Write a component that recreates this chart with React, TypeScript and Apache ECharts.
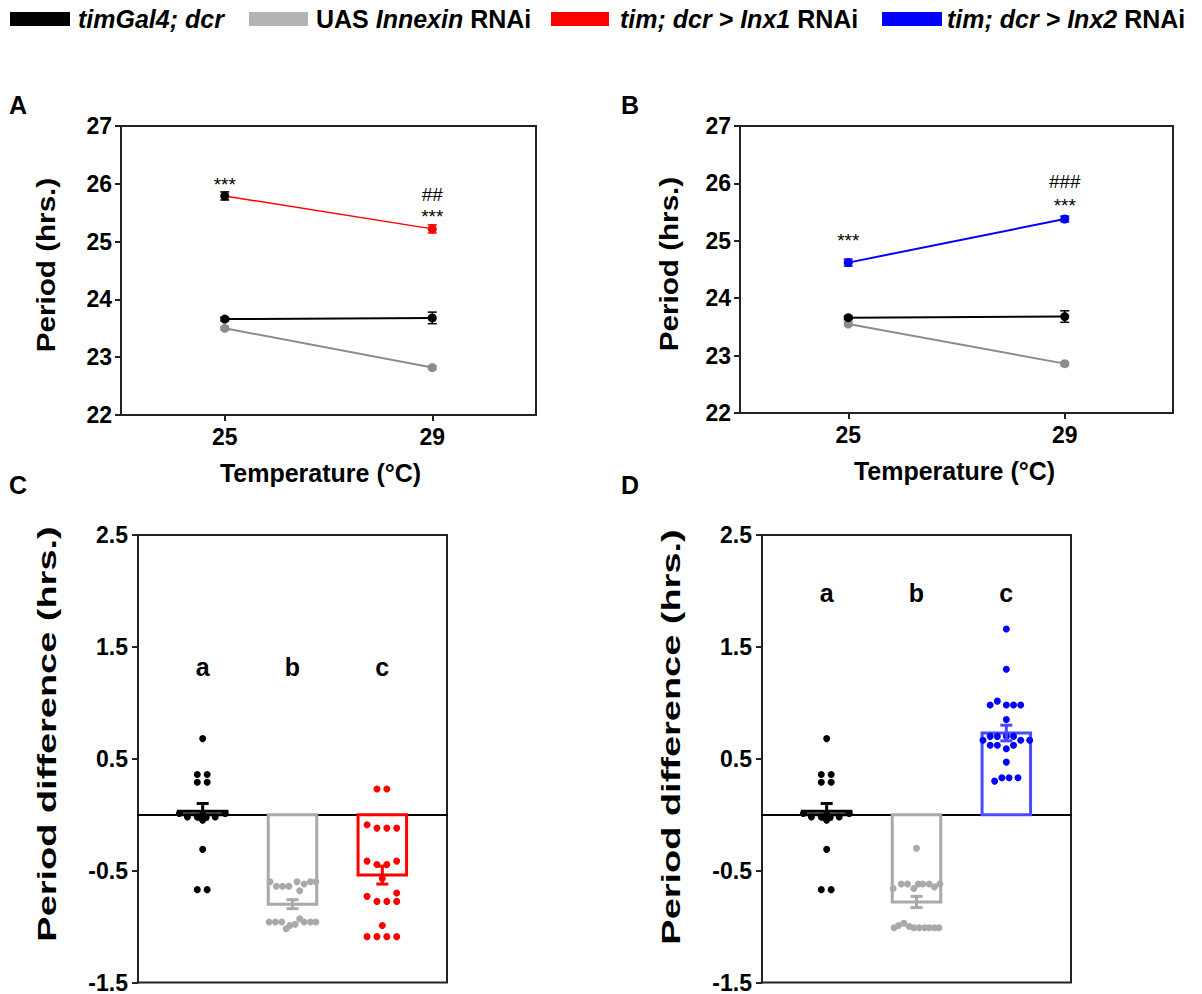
import React, { useEffect, useRef } from "react";
import * as echarts from "echarts";

const FONT = "'Liberation Sans', Arial, Helvetica, sans-serif";

// ---------- Panels A & B (period vs temperature) ----------
const temps = [25, 29];
const xTickValues = [25, 29];

const gal4Period = [23.66, 23.68];
const gal4Sem = [0.03, 0.1];

const uasPeriodA = [23.5, 22.82];
const uasSemA = [0.03, 0.03];
const inx1Period = [25.79, 25.22];
const inx1Sem = [0.07, 0.07];

const uasPeriodB = [23.55, 22.86];
const uasSemB = [0.03, 0.03];
const inx2Period = [24.62, 25.38];
const inx2Sem = [0.06, 0.05];

// [temperature, period, text]
const annotA: [number, number, string][] = [
  [25, 25.98, "***"],
  [29, 25.82, "##"],
  [29, 25.44, "***"],
];
const annotB: [number, number, string][] = [
  [25, 25.0, "***"],
  [29, 26.03, "###"],
  [29, 25.62, "***"],
];

// ---------- Panels C & D (period difference) ----------
const diffTickValues = [-1.5, -0.5, 0.5, 1.5, 2.5];
const letters = ["a", "b", "c"];
const lettersYC = 1.32;
const lettersYD = 1.98;

const barMeanC = [0.03, -0.8, -0.54];
const barSemC = [0.07, 0.04, 0.08];
const barMeanD = [0.03, -0.78, 0.73];
const barSemD = [0.07, 0.05, 0.07];

// [offset within column, value]
const gal4Dots: [number, number][] = [
  [0, 0.68],
  [-0.06, 0.36], [0.05, 0.36],
  [-0.06, 0.29], [0.05, 0.29],
  [-0.26, 0.01], [-0.17, -0.02], [-0.06, -0.02], [0, -0.05], [0.04, -0.02], [0.14, -0.02], [0.25, 0.01], [0, 0.0],
  [0, -0.31],
  [-0.06, -0.67], [0.05, -0.67],
];

const uasDotsC: [number, number][] = [
  [-0.25, -0.6], [-0.18, -0.64], [-0.11, -0.64], [-0.04, -0.64], [0.05, -0.6], [0.08, -0.68], [0.13, -0.62], [0.2, -0.6], [0.26, -0.6],
  [-0.26, -0.96], [-0.19, -0.96], [-0.12, -0.96], [-0.07, -1.02], [-0.03, -0.99], [0.03, -0.98], [0.08, -0.93], [0.13, -0.96], [0.2, -0.96], [0.26, -0.96],
];

const inx1Dots: [number, number][] = [
  [-0.06, 0.23], [0.05, 0.23],
  [-0.17, -0.09], [-0.06, -0.12], [0.05, -0.12], [0.16, -0.12],
  [-0.17, -0.415], [-0.06, -0.445], [0.05, -0.445], [0.16, -0.415],
  [0, -0.57],
  [-0.17, -0.73], [-0.06, -0.775], [0.05, -0.775], [0.16, -0.7], [0.16, -0.775],
  [0, -0.99],
  [-0.17, -1.09], [-0.06, -1.09], [0.05, -1.09], [0.16, -1.09],
];

const uasDotsD: [number, number][] = [
  [0, -0.3],
  [-0.26, -0.66], [-0.17, -0.62], [-0.1, -0.62], [-0.03, -0.66], [0.02, -0.62], [0.07, -0.62], [0.14, -0.62], [0.2, -0.645], [0.26, -0.62],
  [-0.25, -1.01], [-0.2, -0.99], [-0.14, -0.97], [-0.08, -1.0], [-0.03, -1.01], [0.03, -1.01], [0.09, -1.01], [0.14, -1.01], [0.2, -1.01], [0.25, -1.01],
];

const inx2Dots: [number, number][] = [
  [0, 1.66], [0, 1.3],
  [-0.18, 0.98], [-0.1, 1.015], [0, 0.98], [0.08, 0.98], [0.16, 0.98],
  [0, 0.85],
  [-0.26, 0.665], [-0.18, 0.7], [-0.1, 0.7], [0, 0.7], [0.08, 0.7], [0.16, 0.665], [0.26, 0.665],
  [-0.18, 0.62], [-0.1, 0.62], [0, 0.59], [0.08, 0.62],
  [0, 0.47],
  [-0.13, 0.3], [-0.05, 0.33], [0.03, 0.33], [0.13, 0.33],
];

const BLACK = "#000000";
const GREY_LINE = "#8c8c8c";
const GREY_DOT = "#a9a9a9";
const GREY_LEGEND = "#b3b3b3";
const RED = "#ff0000";
const BLUE = "#0000ff";
const BLUE_BAR = "#4a4aff";
const FRAME = "#222222";

const BAR_HALF = 0.27;

function errorBarRender(capHalfPx: number, width: number) {
  return (params: any, api: any) => {
    const x = api.value(0);
    const m = api.value(1);
    const s = api.value(2);
    const top = api.coord([x, m + s]);
    const bot = api.coord([x, m - s]);
    const color = api.visual("color");
    const st = { stroke: color, lineWidth: width };
    return {
      type: "group",
      children: [
        { type: "line", shape: { x1: top[0], y1: top[1], x2: bot[0], y2: bot[1] }, style: st },
        { type: "line", shape: { x1: top[0] - capHalfPx, y1: top[1], x2: top[0] + capHalfPx, y2: top[1] }, style: st },
        { type: "line", shape: { x1: bot[0] - capHalfPx, y1: bot[1], x2: bot[0] + capHalfPx, y2: bot[1] }, style: st },
      ],
    };
  };
}

function barRender(params: any, api: any) {
  const c = api.value(0);
  const m = api.value(1);
  const p0 = api.coord([c - BAR_HALF, 0]);
  const p1 = api.coord([c + BAR_HALF, m]);
  return {
    type: "rect",
    shape: {
      x: Math.min(p0[0], p1[0]),
      y: Math.min(p0[1], p1[1]),
      width: Math.abs(p1[0] - p0[0]),
      height: Math.abs(p1[1] - p0[1]),
    },
    style: { fill: "none", stroke: api.visual("color"), lineWidth: 3 },
  };
}

function textRender(texts: string[], fontSize: number, fontWeight: string) {
  return (params: any, api: any) => {
    const p = api.coord([api.value(0), api.value(1)]);
    return {
      type: "text",
      x: p[0],
      y: p[1],
      style: {
        text: texts[params.dataIndex],
        fontSize,
        fontWeight,
        fontFamily: FONT,
        fill: "#000",
        align: "center",
        verticalAlign: "middle",
      },
    };
  };
}

const axisLabelStyle = { fontSize: 23, fontWeight: "bold", color: "#000", fontFamily: FONT };
const axisNameStyle = { fontSize: 25, fontWeight: "bold", color: "#000", fontFamily: FONT };

export default function App() {
  const ref = useRef<HTMLDivElement>(null);

  useEffect(() => {
    if (!ref.current) return;
    const chart = echarts.init(ref.current, undefined, { renderer: "svg" });

    const grids = [
      { left: 121, top: 126, width: 415, height: 289 },
      { left: 740, top: 126, width: 433, height: 287 },
      { left: 138, top: 535, width: 309, height: 449 },
      { left: 762, top: 535, width: 309, height: 449 },
    ].map((g) => ({ ...g, show: true, borderColor: FRAME, borderWidth: 2, backgroundColor: "#fff" }));

    const tempX = (gi: number, shiftLeft: number) => ({
      gridIndex: gi,
      type: "value",
      min: 23,
      max: 31,
      axisLine: { onZero: false, lineStyle: { color: FRAME, width: 2 } },
      axisTick: { show: true, customValues: xTickValues, length: 6, lineStyle: { color: FRAME, width: 2 } },
      axisLabel: { ...axisLabelStyle, customValues: xTickValues, margin: 10 },
      splitLine: { show: false },
      name: "Temperature (°C)",
      nameLocation: "middle",
      nameGap: 45,
      nameTextStyle: { ...axisNameStyle, padding: [0, shiftLeft * 2, 0, 0] },
    });
    const periodY = (gi: number) => ({
      gridIndex: gi,
      type: "value",
      min: 22,
      max: 27,
      interval: 1,
      axisLine: { show: true, onZero: false, lineStyle: { color: FRAME, width: 2 } },
      axisTick: { show: true, length: 6, lineStyle: { color: FRAME, width: 2 } },
      axisLabel: { ...axisLabelStyle, margin: 9 },
      splitLine: { show: false },
    });
    const catX = (gi: number) => ({
      gridIndex: gi,
      type: "value",
      min: -0.72,
      max: 2.72,
      axisLine: { show: true, onZero: true, lineStyle: { color: BLACK, width: 2 } },
      axisTick: { show: false },
      axisLabel: { show: false },
      splitLine: { show: false },
    });
    const diffY = (gi: number) => ({
      gridIndex: gi,
      type: "value",
      min: -1.5,
      max: 2.5,
      axisLine: { show: true, onZero: false, lineStyle: { color: FRAME, width: 2 } },
      axisTick: { show: true, customValues: diffTickValues, length: 6, lineStyle: { color: FRAME, width: 2 } },
      axisLabel: { ...axisLabelStyle, customValues: diffTickValues, margin: 10, formatter: (v: number) => v.toFixed(1) },
      splitLine: { show: false },
    });

    const series: any[] = [];

    const addLine = (gi: number, vals: number[], sems: number[], color: string, width: number, markerColors?: string[]) => {
      series.push({
        type: "custom",
        xAxisIndex: gi,
        yAxisIndex: gi,
        renderItem: errorBarRender(4.5, 1.5),
        data: temps.map((t, i) => ({
          value: [t, vals[i], sems[i]],
          itemStyle: { color: markerColors ? markerColors[i] : color },
        })),
        z: 3,
      });
      series.push({
        type: "line",
        xAxisIndex: gi,
        yAxisIndex: gi,
        symbol: "circle",
        symbolSize: 9,
        lineStyle: { color, width },
        itemStyle: { color },
        data: temps.map((t, i) => ({
          value: [t, vals[i]],
          itemStyle: { color: markerColors ? markerColors[i] : color },
        })),
        z: 4,
      });
    };
    addLine(0, uasPeriodA, uasSemA, GREY_LINE, 2);
    addLine(0, gal4Period, gal4Sem, BLACK, 2);
    addLine(0, inx1Period, inx1Sem, RED, 1.5, [BLACK, RED]);
    addLine(1, uasPeriodB, uasSemB, GREY_LINE, 2);
    addLine(1, gal4Period, gal4Sem, BLACK, 2);
    addLine(1, inx2Period, inx2Sem, BLUE, 2);

    const addAnnot = (gi: number, list: [number, number, string][]) => {
      series.push({
        type: "custom",
        xAxisIndex: gi,
        yAxisIndex: gi,
        renderItem: textRender(list.map((a) => a[2]), 19, "normal"),
        data: list.map((a) => [a[0], a[1]]),
        z: 5,
      });
    };
    addAnnot(0, annotA);
    addAnnot(1, annotB);

    const addDiffPanel = (
      gi: number,
      means: number[],
      sems: number[],
      barColors: string[],
      dotColors: string[],
      dots: [number, number][][],
      lettersY: number
    ) => {
      series.push({
        type: "custom",
        xAxisIndex: gi,
        yAxisIndex: gi,
        renderItem: barRender,
        data: means.map((m, i) => ({ value: [i, m], itemStyle: { color: barColors[i] } })),
        z: 2,
      });
      dots.forEach((group, i) => {
        series.push({
          type: "scatter",
          xAxisIndex: gi,
          yAxisIndex: gi,
          symbol: "circle",
          symbolSize: 7,
          itemStyle: { color: dotColors[i], opacity: 1 },
          data: group.map((d) => [i + d[0], d[1]]),
          z: 3,
        });
      });
      series.push({
        type: "custom",
        xAxisIndex: gi,
        yAxisIndex: gi,
        renderItem: errorBarRender(6, 3),
        data: means.map((m, i) => ({ value: [i, m, sems[i]], itemStyle: { color: barColors[i] } })),
        z: 4,
      });
      series.push({
        type: "custom",
        xAxisIndex: gi,
        yAxisIndex: gi,
        renderItem: textRender(letters, 25, "bold"),
        data: letters.map((l, i) => [i, lettersY]),
        z: 5,
      });
    };
    addDiffPanel(2, barMeanC, barSemC, [BLACK, GREY_DOT, RED], [BLACK, GREY_DOT, RED], [gal4Dots, uasDotsC, inx1Dots], lettersYC);
    addDiffPanel(3, barMeanD, barSemD, [BLACK, GREY_DOT, BLUE_BAR], [BLACK, GREY_DOT, BLUE], [gal4Dots, uasDotsD, inx2Dots], lettersYD);

    const legendRich = {
      b: { fontSize: 25, fontWeight: "bold", fontFamily: FONT, color: "#000" },
      bi: { fontSize: 25, fontWeight: "bold", fontStyle: "italic", fontFamily: FONT, color: "#000" },
    };
    const legendItems: { x: number; w: number; color: string; tx: number; text: string }[] = [
      { x: 10, w: 60, color: BLACK, tx: 78, text: "{bi|timGal4; dcr}" },
      { x: 249, w: 59, color: GREY_LEGEND, tx: 316, text: "{b|UAS }{bi|Innexin}{b| RNAi}" },
      { x: 551, w: 58, color: RED, tx: 620, text: "{bi|tim; dcr > Inx1}{b| RNAi}" },
      { x: 882, w: 60, color: BLUE, tx: 947, text: "{bi|tim; dcr > Inx2}{b| RNAi}" },
    ];
    const graphic: any[] = [];
    legendItems.forEach((it) => {
      graphic.push({ type: "rect", x: it.x, y: 12, shape: { width: it.w, height: 14 }, style: { fill: it.color } });
      graphic.push({
        type: "text",
        x: it.tx,
        y: 19,
        style: { text: it.text, rich: legendRich, verticalAlign: "middle", align: "left" },
      });
    });
    const panelLetters: [string, number, number][] = [
      ["A", 9, 105],
      ["B", 621, 105],
      ["C", 9, 485],
      ["D", 621, 485],
    ];
    panelLetters.forEach(([t, x, y]) => {
      graphic.push({
        type: "text",
        x,
        y,
        style: { text: t, fontSize: 25, fontWeight: "bold", fontFamily: FONT, fill: "#000", verticalAlign: "middle" },
      });
    });
    // y-axis titles (stretched along their length as in the original figure)
    const yTitles: [string, number, number, number][] = [
      ["Period (hrs.)", 46, 265, 1.14],
      ["Period (hrs.)", 669, 264, 1.14],
      ["Period difference (hrs.)", 47, 734, 1.46],
      ["Period difference (hrs.)", 671, 737, 1.46],
    ];
    yTitles.forEach(([t, x, y, sx]) => {
      graphic.push({
        type: "text",
        x,
        y,
        rotation: Math.PI / 2,
        scaleX: sx,
        scaleY: 1,
        style: {
          text: t,
          fontSize: 26,
          fontWeight: "bold",
          fontFamily: FONT,
          fill: "#000",
          align: "center",
          verticalAlign: "middle",
        },
      });
    });

    chart.setOption({
      animation: false,
      backgroundColor: "#ffffff",
      grid: grids,
      xAxis: [tempX(0, 8), tempX(1, 2), catX(2), catX(3)],
      yAxis: [periodY(0), periodY(1), diffY(2), diffY(3)],
      series,
      graphic,
    });

    return () => chart.dispose();
  }, []);

  return (
    <div
      ref={ref}
      style={{ position: "absolute", left: 0, top: 0, width: 1202, height: 994, background: "#fff" }}
    />
  );
}
